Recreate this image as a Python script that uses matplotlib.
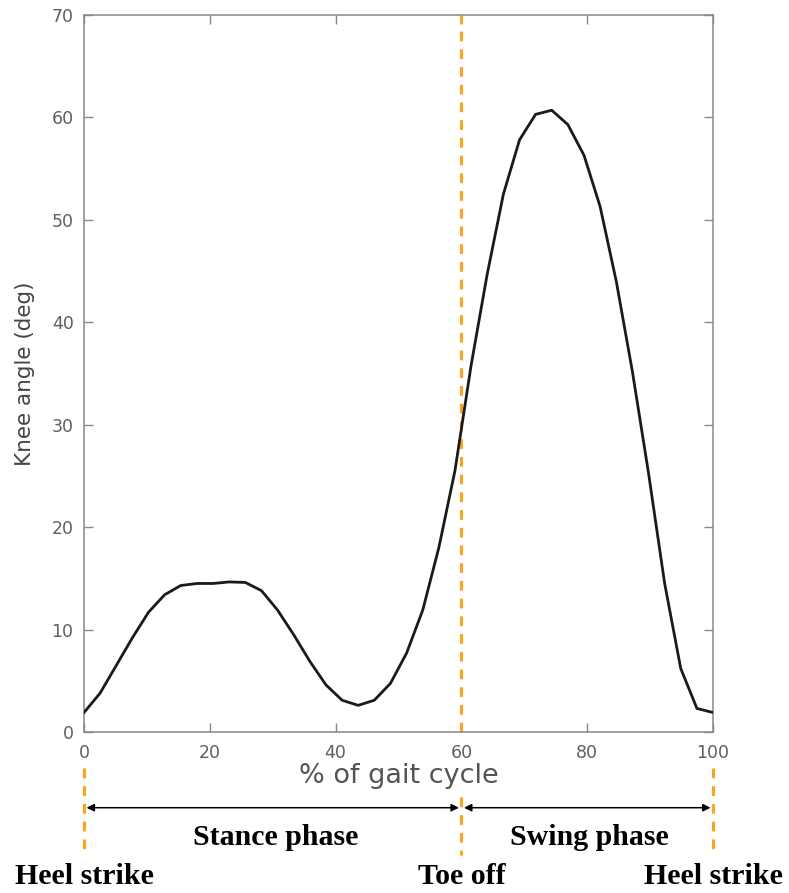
import numpy as np
import matplotlib
matplotlib.use("Agg")
import matplotlib.pyplot as plt
from matplotlib.transforms import blended_transform_factory

# knee flexion over one gait cycle (40 samples)
gait_pct = [0, 2.56, 5.13, 7.69, 10.26, 12.82, 15.38, 17.95, 20.51, 23.08,
            25.64, 28.21, 30.77, 33.33, 35.90, 38.46, 41.03, 43.59, 46.15, 48.72,
            51.28, 53.85, 56.41, 58.97, 61.54, 64.10, 66.67, 69.23, 71.79, 74.36,
            76.92, 79.49, 82.05, 84.62, 87.18, 89.74, 92.31, 94.87, 97.44, 100]
knee_deg = [1.9, 3.8, 6.5, 9.2, 11.7, 13.4, 14.3, 14.5, 14.5, 14.65,
            14.6, 13.8, 11.9, 9.5, 6.9, 4.6, 3.1, 2.6, 3.1, 4.75,
            7.7, 11.9, 18.0, 25.5, 35.8, 44.7, 52.5, 57.8, 60.3, 60.7,
            59.3, 56.3, 51.3, 44.0, 35.2, 25.3, 14.5, 6.2, 2.3, 1.9]

events_x = [0, 60, 100]
event_names = ["Heel strike", "Toe off", "Heel strike"]
phases = [("Stance phase", 0, 60), ("Swing phase", 60, 100)]

orange = '#FFA31A'
grey = '#5f5f5f'

fig = plt.figure(figsize=(7.89, 8.93), dpi=100)
ax = fig.add_axes([0.1065, 0.1803, 0.7972, 0.8029])

ax.plot(gait_pct, knee_deg, color='#1a1a1a', lw=2.0, zorder=3)
ax.axvline(events_x[1], color=orange, lw=2.2, dashes=(3.2, 2.6), zorder=2)

ax.set_xlim(0, 100)
ax.set_ylim(0, 70)
ax.set_xticks(np.arange(0, 101, 20))
ax.set_yticks(np.arange(0, 71, 10))
for s in ax.spines.values():
    s.set_color('#888888')
    s.set_linewidth(1.1)
ax.tick_params(direction='in', length=6.5, width=1.0, color='#888888',
               top=True, right=True, labelsize=12.5, labelcolor=grey)
ax.tick_params(axis='x', pad=8.5)
ax.tick_params(axis='y', pad=7.5)
ax.set_xlabel('% of gait cycle', fontsize=19.5, color='#555555', labelpad=1)
ax.set_ylabel('Knee angle (deg)', fontsize=15.5, color='#444444', labelpad=12)

# annotations below the axes: x in data units, y in figure fraction
trans = blended_transform_factory(ax.transData, fig.transFigure)
for xe in events_x:
    y_top = 0.108 if xe == 60 else 0.140
    ax.plot([xe, xe], [y_top, 0.043], transform=trans, clip_on=False,
            color=orange, lw=2.2, dashes=(3.2, 2.6))

for name, x0, x1 in phases:
    ax.annotate('', xy=(x0 + 0.4, 0.0955), xytext=(x1 - 0.4, 0.0955),
                xycoords=trans, textcoords=trans,
                arrowprops=dict(arrowstyle='<|-|>', color='black', lw=1.1,
                                mutation_scale=11, shrinkA=0, shrinkB=0))
    ax.text((x0 + x1) / 2 + 0.4, 0.062, name, transform=trans, ha='center',
            va='center', fontsize=21.5, fontweight='bold',
            family='Liberation Serif')

for xe, name in zip(events_x, event_names):
    ax.text(xe, 0.018, name, transform=trans, ha='center', va='center',
            fontsize=21.5, fontweight='bold', family='Liberation Serif')

fig.savefig('out.png', dpi=100)
